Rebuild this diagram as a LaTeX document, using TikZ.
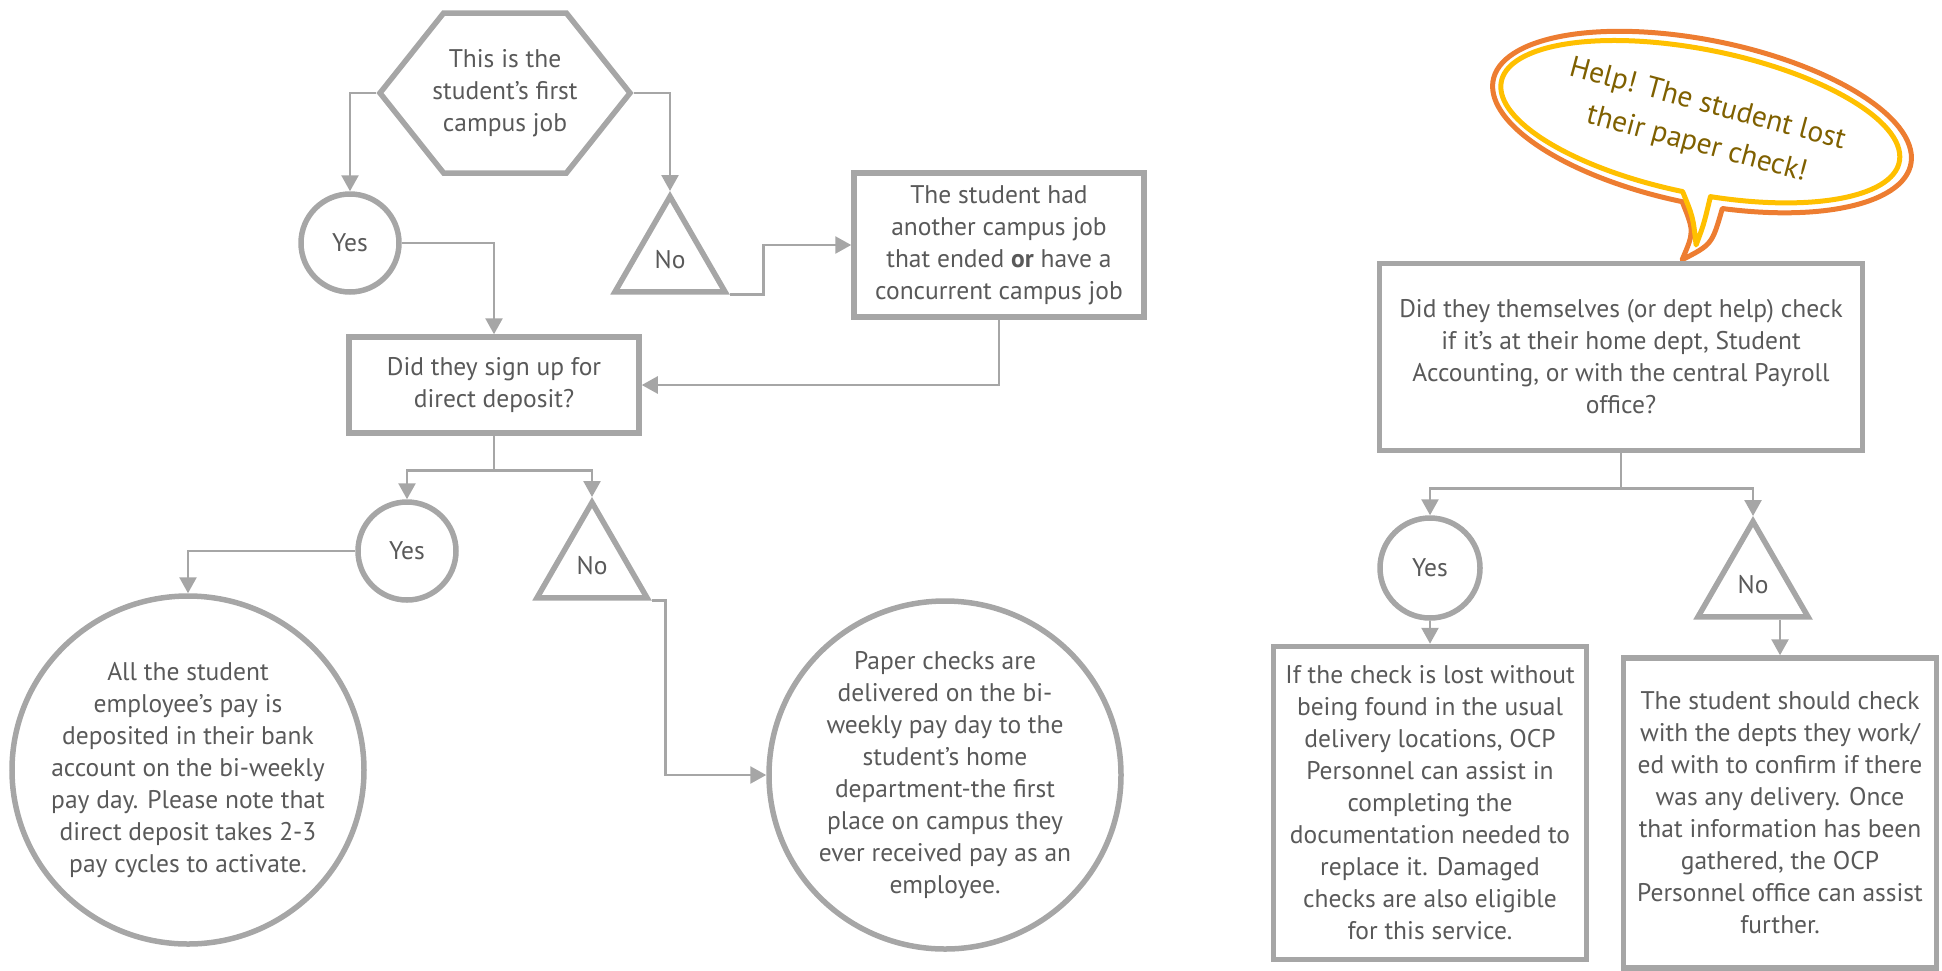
\documentclass[tikz,border=0pt]{standalone}
\usepackage{fontspec}
\setmainfont{PT Sans}
\usepackage{xcolor}
\usetikzlibrary{arrows.meta,positioning,shapes.geometric,shapes.symbols,calc}
\definecolor{greyln}{HTML}{A6A6A6}
\definecolor{greytx}{HTML}{595959}
\definecolor{bubor}{HTML}{ED7D31}
\definecolor{bubye}{HTML}{FFC000}
\definecolor{bubtx}{HTML}{7F6000}

\begin{document}
\begin{tikzpicture}[x=1pt,y=-1pt,font=\fontsize{25.5}{32}\selectfont,text=greytx,
  nd/.style={draw=greyln,line width=5.5pt,align=center,inner sep=0pt},
  boxnd/.style={nd,rectangle},hexnd/.style={nd,signal,signal to=west and east,signal pointer angle=103,inner xsep=-12pt,minimum width=250pt,minimum height=160pt},
  yesnd/.style={nd,circle,minimum size=98pt},nond/.style={nd,regular polygon,regular polygon sides=3,minimum size=127pt},
  bignd/.style={nd,ellipse,inner sep=-70pt,minimum width=352pt,minimum height=348pt},
  link/.style={draw=greyln,line width=2.6pt},arr/.style={link,-{Triangle[length=16pt,width=17pt]}}]
\useasboundingbox (0,0) rectangle (1942,970);
\node[hexnd] (first) at (505,93) {This is the\\student’s first\\campus job};
\node[yesnd] (yes1) at (350,243) {Yes};
\node[nond] (no1) at (670,260) {No};
\node[boxnd,minimum width=290pt,minimum height=144pt] (had) at (999,245) {The student had\\another campus job\\that ended \textbf{or} have a\\concurrent campus job};
\node[boxnd,minimum width=290pt,minimum height=96pt] (dd) at (494,385) {Did they sign up for\\direct deposit?};
\node[yesnd] (yes2) at (407,551) {Yes};
\node[nond] (no2) at (592,566) {No};
\node[bignd] (paid) at (188,770) {All the student\\employee’s pay is\\deposited in their bank\\account on the bi-weekly\\pay day. Please note that\\direct deposit takes 2-3\\pay cycles to activate.};
\node[bignd] (paper) at (945,775) {Paper checks are\\delivered on the bi-\\weekly pay day to the\\student’s home\\department-the first\\place on campus they\\ever received pay as an\\employee.};
\begin{scope}[shift={(1702,122)},rotate=-11.4]
\draw[bubor,line width=5pt,line join=round] (37,80.8) arc[start angle=80,end angle=-269,x radius=213,y radius=82] .. controls (14,109) .. (7.7,139) .. controls (34,118) .. cycle;
\draw[bubye,line width=5pt,line join=round] (23,71.5) arc[start angle=83,end angle=-269,x radius=203,y radius=72] .. controls (10,95) .. (18.5,121.7) .. controls (22,100) .. cycle;
\end{scope}
\node[text=bubtx,rotate=-15,align=center,font=\fontsize{29.5}{41}\selectfont] (help) at (1702,125) {Help! The student lost\\their paper check!};
\node[boxnd,minimum width=483pt,minimum height=187pt] (lost) at (1621,357) {Did they themselves (or dept help) check\\if it’s at their home dept, Student\\Accounting, or with the central Payroll\\office?};
\node[yesnd,minimum size=100pt] (yes3) at (1430,568) {Yes};
\node[nond] (no3) at (1753,585) {No};
\node[boxnd,minimum width=313pt,minimum height=313pt] (ocp) at (1430,803) {If the check is lost without\\being found in the usual\\delivery locations, OCP\\Personnel can assist in\\completing the\\documentation needed to\\replace it. Damaged\\checks are also eligible\\for this service.};
\node[boxnd,minimum width=313pt,minimum height=310pt] (depts) at (1780,813) {The student should check\\with the depts they work/\\ed with to confirm if there\\was any delivery. Once\\that information has been\\gathered, the OCP\\Personnel office can assist\\further.};
\draw[arr] (first.west) -| (yes1.north); \draw[arr] (first.east) -| (no1.corner 1);
\draw[arr] (yes1.east) -| (dd.north); \draw[arr] (no1.corner 3) -- ++(34,0) |- (had.west);
\draw[arr] (had.south) |- (dd.east);
\draw[link] (dd.south) -- ++(0,35) coordinate (ddb);
\draw[arr] (ddb) -| (yes2.north); \draw[arr] (ddb) -| (no2.corner 1);
\draw[arr] (yes2.west) -| (paid.north); \draw[arr] (no2.corner 3) -- ++(14,0) |- (paper.west);
\draw[link] (lost.south) -- ++(0,35) coordinate (lostb);
\draw[arr] (lostb) -| (yes3.north); \draw[arr] (lostb) -| (no3.corner 1);
\draw[arr] (yes3.south) -- (ocp.north); \draw[arr] (no3.south -| depts.north) -- (depts.north);
\end{tikzpicture}
\end{document}
